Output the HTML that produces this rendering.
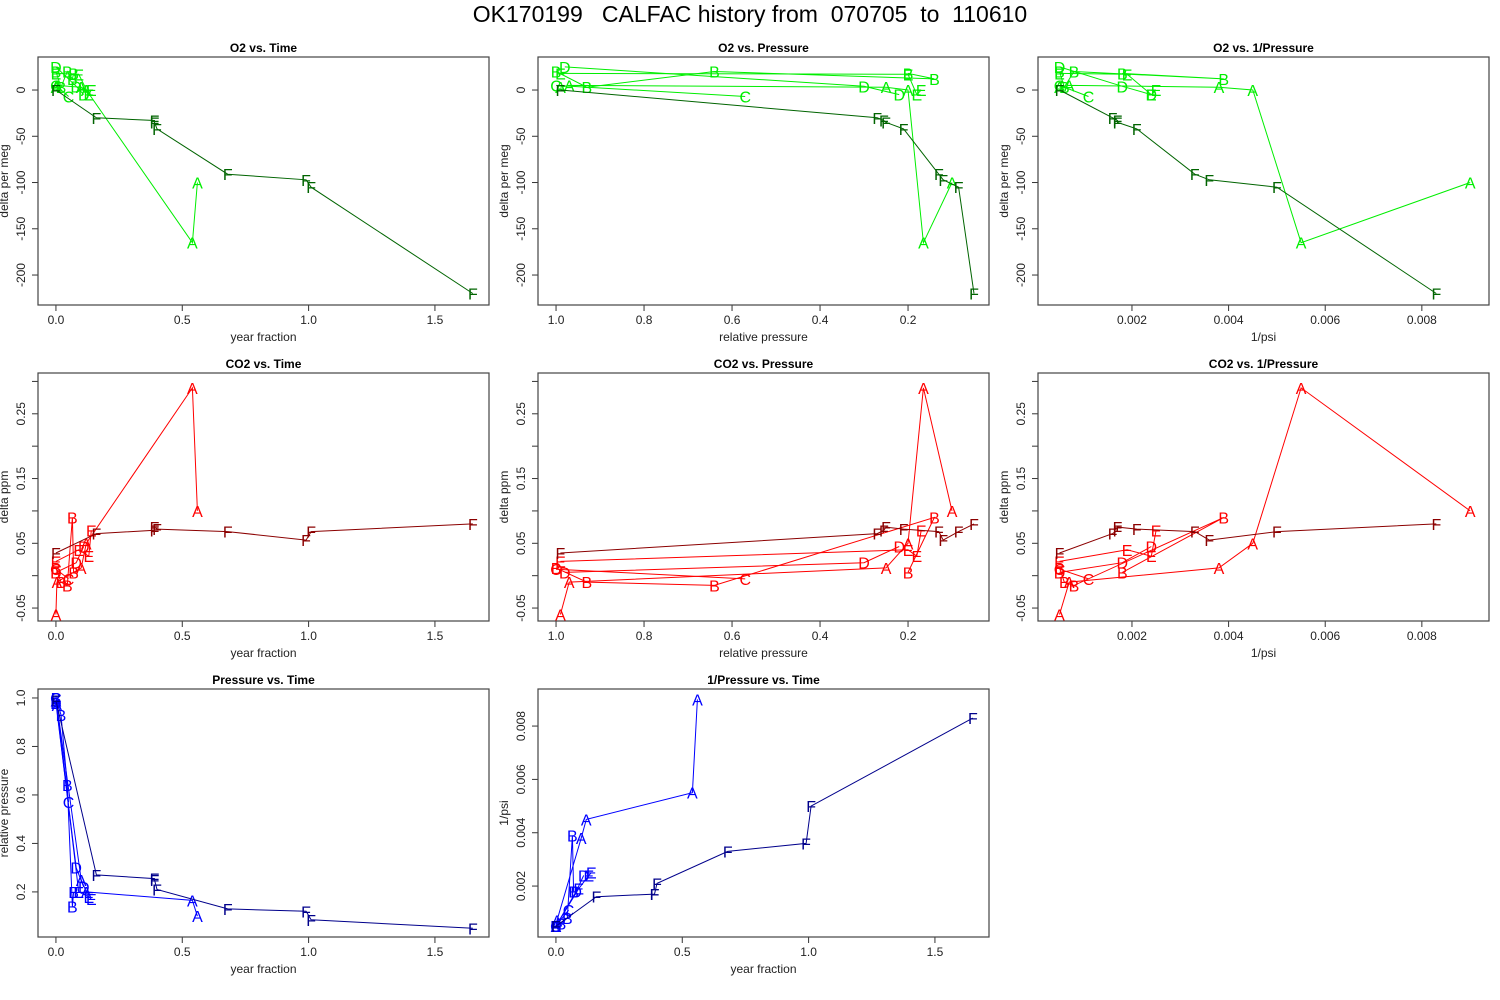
<!DOCTYPE html>
<html><head><meta charset="utf-8">
<style>
body{margin:0;background:#fff;}
svg{display:block;font-family:"Liberation Sans",sans-serif;}
#main-title{white-space:pre;}
</style></head>
<body>
<svg id="chart" width="1500" height="1000" viewBox="0 0 1500 1000">
<rect width="1500" height="1000" fill="#fff"/>
<text id="main-title" x="750" y="22" text-anchor="middle" font-size="23" xml:space="preserve">OK170199   CALFAC history from  070705  to  110610</text>
</svg>
<script>
// Data per tank
const tanks = ["A","B","C","D","E","F"];
const timeA = [0,0.004,0.1,0.12,0.54,0.56];
const presA = [0.99,0.97,0.25,0.2,0.165,0.1];
const invA = [0.0005,0.0007,0.0038,0.0045,0.0055,0.009];
const o2A = [3,5,3,0,-165,-100];
const co2A = [-0.06,-0.01,0.012,0.05,0.29,0.1];
const timeB = [0,0.02,0.045,0.065,0.07];
const presB = [1.0,0.93,0.64,0.14,0.2];
const invB = [0.0005,0.0006,0.0008,0.0039,0.0018];
const o2B = [20,3,20,12,18];
const co2B = [0.012,-0.01,-0.015,0.09,0.005];
const timeC = [0,0.05];
const presC = [1.0,0.57];
const invC = [0.0005,0.0011];
const o2C = [5,-7];
const co2C = [0.01,-0.005];
const timeD = [0,0.08,0.11];
const presD = [0.98,0.3,0.22];
const invD = [0.0005,0.0018,0.0024];
const o2D = [25,4,-5];
const co2D = [0.005,0.02,0.045];
const timeE = [0,0.09,0.13,0.14];
const presE = [0.99,0.2,0.18,0.17];
const invE = [0.0005,0.0019,0.0024,0.0025];
const o2E = [18,17,-5,0];
const co2E = [0.022,0.04,0.03,0.07];
const timeF = [0,0.16,0.39,0.39,0.40,0.68,0.99,1.01,1.65];
const presF = [0.99,0.27,0.255,0.25,0.21,0.13,0.12,0.085,0.05];
const invF = [0.0005,0.0016,0.0017,0.0017,0.0021,0.0033,0.0036,0.005,0.0083];
const o2F = [0,-30,-33,-35,-42,-91,-97,-105,-220];
const co2F = [0.035,0.065,0.07,0.075,0.072,0.068,0.055,0.068,0.08];
const timeTicks = [0,0.5,1.0,1.5];
const timeTickLabels = ["0.0","0.5","1.0","1.5"];
const presTicks = [1.0,0.8,0.6,0.4,0.2];
const presTickLabels = ["1.0","0.8","0.6","0.4","0.2"];
const invTicks = [0.002,0.004,0.006,0.008];
const invTickLabels = ["0.002","0.004","0.006","0.008"];
const o2Ticks = [0,-50,-100,-150,-200];
const o2TickLabels = ["0","-50","-100","-150","-200"];
const co2Ticks = [-0.05,0,0.05,0.1,0.15,0.2,0.25,0.3];
const co2TickLabels = ["-0.05","","0.05","","0.15","","0.25",""];

const D = {
  A:{time:timeA,pres:presA,inv:invA,o2:o2A,co2:co2A},
  B:{time:timeB,pres:presB,inv:invB,o2:o2B,co2:co2B},
  C:{time:timeC,pres:presC,inv:invC,o2:o2C,co2:co2C},
  D:{time:timeD,pres:presD,inv:invD,o2:o2D,co2:co2D},
  E:{time:timeE,pres:presE,inv:invE,o2:o2E,co2:co2E},
  F:{time:timeF,pres:presF,inv:invF,o2:o2F,co2:co2F}
};
const AX = {
  time:{min:-0.071,max:1.714,ticks:timeTicks,labels:timeTickLabels,title:"year fraction"},
  pres:{min:1.041,max:0.016,ticks:presTicks,labels:presTickLabels,title:"relative pressure"},
  inv:{min:0.000055,max:0.00939,ticks:invTicks,labels:invTickLabels,title:"1/psi"}
};
const AY = {
  o2:{min:-232.4,max:35.7,ticks:o2Ticks,labels:o2TickLabels,title:"delta per meg"},
  co2:{min:-0.070,max:0.313,ticks:co2Ticks,labels:co2TickLabels,title:"delta ppm"},
  pres:{min:0.014,max:1.037,ticks:presTicks,labels:presTickLabels,title:"relative pressure"},
  inv:{min:0.00009,max:0.00939,ticks:invTicks,labels:invTickLabels,title:"1/psi"}
};
const svg = document.getElementById('chart');
const NS = "http://www.w3.org/2000/svg";
function mk(tag, attrs, parent){
  const e = document.createElementNS(NS, tag);
  for (const k in attrs) e.setAttribute(k, attrs[k]);
  (parent||svg).appendChild(e);
  return e;
}
const panels = [
  {title:"O2 vs. Time",x:"time",y:"o2",L:38,T:57,c:["#00ee00","#006400"]},
  {title:"O2 vs. Pressure",x:"pres",y:"o2",L:538,T:57,c:["#00ee00","#006400"]},
  {title:"O2 vs. 1/Pressure",x:"inv",y:"o2",L:1038,T:57,c:["#00ee00","#006400"]},
  {title:"CO2 vs. Time",x:"time",y:"co2",L:38,T:373,c:["#ff0000","#8b0000"]},
  {title:"CO2 vs. Pressure",x:"pres",y:"co2",L:538,T:373,c:["#ff0000","#8b0000"]},
  {title:"CO2 vs. 1/Pressure",x:"inv",y:"co2",L:1038,T:373,c:["#ff0000","#8b0000"]},
  {title:"Pressure vs. Time",x:"time",y:"pres",L:38,T:689,c:["#0000ff","#00008b"]},
  {title:"1/Pressure vs. Time",x:"time",y:"inv",L:538,T:689,c:["#0000ff","#00008b"]}
];
const W = 451, H = 248;
panels.forEach((p, pi) => {
  const g = mk('g', {});
  
  
  const ax = AX[p.x], ay = AY[p.y];
  const sx = v => p.L + (v - ax.min) / (ax.max - ax.min) * W;
  const sy = v => p.T + H - (v - ay.min) / (ay.max - ay.min) * H;
  const t = mk('text', {x:p.L+W/2, y:p.T-5, 'text-anchor':'middle','font-size':12,'font-weight':'bold'}, g);
  t.textContent = p.title;
  
  
  ax.ticks.forEach((v,i) => {
    const x = sx(v);
    mk('line',{x1:x,x2:x,y1:p.T+H,y2:p.T+H+6,stroke:'#333'},g);
    const tl = mk('text',{x:x,y:p.T+H+19,'text-anchor':'middle','font-size':12,fill:'#222'},g);
    tl.textContent = ax.labels[i];
    
    
  });
  const xt = mk('text',{x:p.L+W/2,y:p.T+H+36,'text-anchor':'middle','font-size':12,fill:'#222'},g);
  xt.textContent = ax.title;
  
  
  ay.ticks.forEach((v,i) => {
    const y = sy(v);
    mk('line',{x1:p.L-6,x2:p.L,y1:y,y2:y,stroke:'#333'},g);
    if (ay.labels[i]) {
      const yl = mk('text',{x:p.L-13,y:y,'text-anchor':'middle','font-size':12,fill:'#222',transform:`rotate(-90 ${p.L-13} ${y})`},g);
      yl.textContent = ay.labels[i];
      
      
    }
  });
  const yx = p.L-30, yy = p.T+H/2;
  const yt = mk('text',{x:yx,y:yy,'text-anchor':'middle','font-size':12,fill:'#222',transform:`rotate(-90 ${yx} ${yy})`},g);
  yt.textContent = ay.title;
  
  
  mk('rect',{x:p.L,y:p.T,width:W,height:H,fill:'none',stroke:'#444','stroke-width':1.2},g);
  tanks.forEach(tk => {
    const d = D[tk];
    const xs = d[p.x], ys = d[p.y];
    const col = tk === "F" ? p.c[1] : p.c[0];
    const pts = xs.map((v,i)=> sx(v).toFixed(1)+','+sy(ys[i]).toFixed(1)).join(' ');
    const pl = mk('polyline',{points:pts,fill:'none',stroke:col,'stroke-width':1},g);
    
    
    xs.forEach((v,i) => {
      const tx = mk('text',{x:sx(v),y:sy(ys[i])+6,'text-anchor':'middle','font-size':16,fill:col},g);
      tx.textContent = tk;
      
      
    });
  });
});
</script>
</body></html>
